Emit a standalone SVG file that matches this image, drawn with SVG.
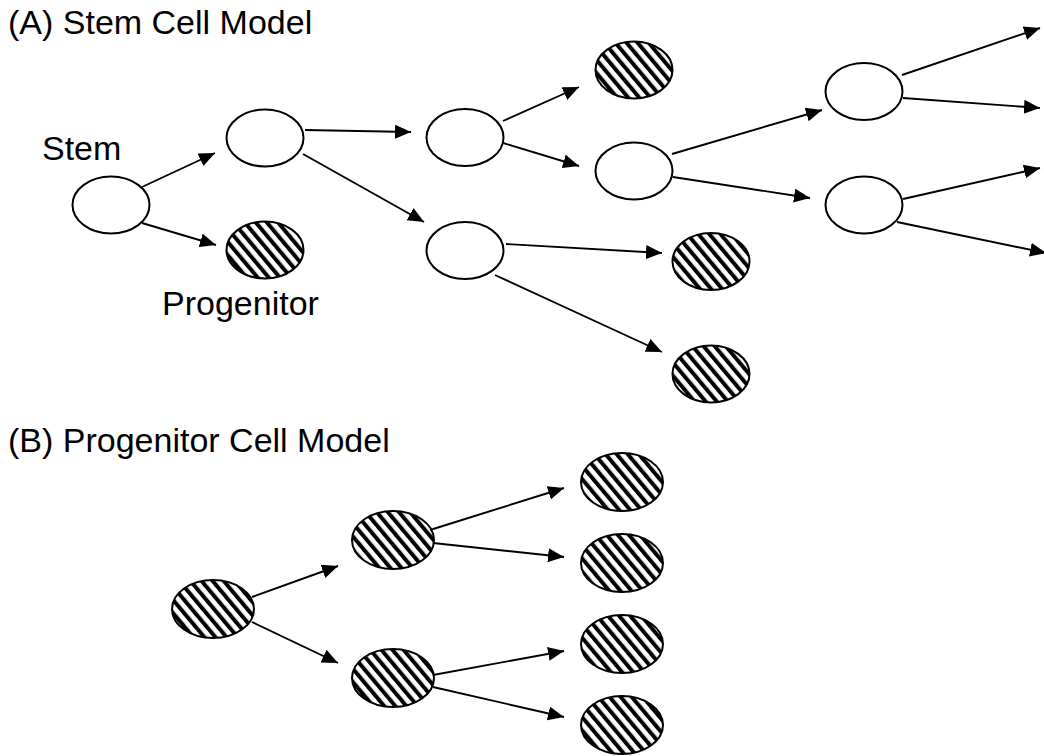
<svg xmlns="http://www.w3.org/2000/svg" width="1044" height="756" viewBox="0 0 1044 756">
<defs>
<pattern id="hatch" patternUnits="userSpaceOnUse" width="8.5" height="8.5" patternTransform="rotate(-40)">
<rect x="0" y="0" width="8.5" height="8.5" fill="#fff"/>
<rect x="0" y="0" width="4" height="8.5" fill="#000"/>
</pattern>
<marker id="ah" markerUnits="userSpaceOnUse" markerWidth="18" markerHeight="15" refX="16" refY="7" orient="auto">
<path d="M0,0 L16,7 L0,14 z" fill="#000"/>
</marker>
</defs>
<style>
.w{fill:#fff;stroke:#000;stroke-width:2}
.h{fill:url(#hatch);stroke:#000;stroke-width:2}
.c line{stroke:#000;stroke-width:1.9;marker-end:url(#ah)}
text{font-family:"Liberation Sans",Arial,sans-serif;font-size:34px;fill:#000}
</style>
<rect width="1044" height="756" fill="#fff"/>
<text x="8" y="34">(A) Stem Cell Model</text>
<text x="8" y="452">(B) Progenitor Cell Model</text>
<g id="a-stem"><ellipse class="w" cx="111" cy="205" rx="38.5" ry="28.5"/><text x="42" y="160">Stem</text></g>
<g id="a-prog"><ellipse class="h" cx="265" cy="250" rx="38.5" ry="28.5"/><text x="162" y="315">Progenitor</text></g>
<g id="a-w1"><ellipse class="w" cx="265" cy="138" rx="38.5" ry="28.5"/></g>
<g id="a-w2"><ellipse class="w" cx="465" cy="137.5" rx="38.5" ry="28.5"/></g>
<g id="a-w3"><ellipse class="w" cx="465" cy="250.5" rx="38.5" ry="28.5"/></g>
<g id="a-h1"><ellipse class="h" cx="634" cy="70" rx="38.5" ry="28.5"/></g>
<g id="a-w4"><ellipse class="w" cx="634" cy="171" rx="38.5" ry="28.5"/></g>
<g id="a-h2"><ellipse class="h" cx="711" cy="261.5" rx="38.5" ry="28.5"/></g>
<g id="a-h3"><ellipse class="h" cx="711" cy="374" rx="38.5" ry="28.5"/></g>
<g id="a-w5"><ellipse class="w" cx="864" cy="91.5" rx="38.5" ry="28.5"/></g>
<g id="a-w6"><ellipse class="w" cx="864" cy="205" rx="38.5" ry="28.5"/></g>
<g id="b-root"><ellipse class="h" cx="213" cy="609" rx="41" ry="29"/></g>
<g id="b-u"><ellipse class="h" cx="393" cy="540" rx="41" ry="29"/></g>
<g id="b-l"><ellipse class="h" cx="393" cy="678" rx="41" ry="29"/></g>
<g id="b-1"><ellipse class="h" cx="622" cy="482" rx="41" ry="29"/></g>
<g id="b-2"><ellipse class="h" cx="622" cy="563" rx="41" ry="29"/></g>
<g id="b-3"><ellipse class="h" cx="622" cy="644" rx="41" ry="29"/></g>
<g id="b-4"><ellipse class="h" cx="622" cy="725" rx="41" ry="29"/></g>
<g id="connectors" class="c">
<line x1="142" y1="187" x2="215" y2="153"/>
<line x1="142" y1="223" x2="216" y2="245"/>
<line x1="305" y1="130" x2="411" y2="132"/>
<line x1="303" y1="154" x2="424" y2="222"/>
<line x1="503" y1="121" x2="579" y2="87"/>
<line x1="503" y1="143" x2="579" y2="166"/>
<line x1="506" y1="244" x2="662" y2="253"/>
<line x1="495" y1="275" x2="662" y2="352"/>
<line x1="672" y1="154" x2="822" y2="110"/>
<line x1="673" y1="177" x2="810" y2="198"/>
<line x1="902" y1="75" x2="1040" y2="28"/>
<line x1="903" y1="98" x2="1040" y2="108"/>
<line x1="903" y1="199" x2="1040" y2="168"/>
<line x1="897" y1="222" x2="1046" y2="253"/>
<line x1="252" y1="597" x2="338" y2="566"/>
<line x1="252" y1="622" x2="338" y2="663"/>
<line x1="430" y1="530" x2="564" y2="488"/>
<line x1="433" y1="543" x2="564" y2="557"/>
<line x1="433" y1="675" x2="564" y2="651"/>
<line x1="433" y1="687" x2="564" y2="717"/>
</g>
</svg>
